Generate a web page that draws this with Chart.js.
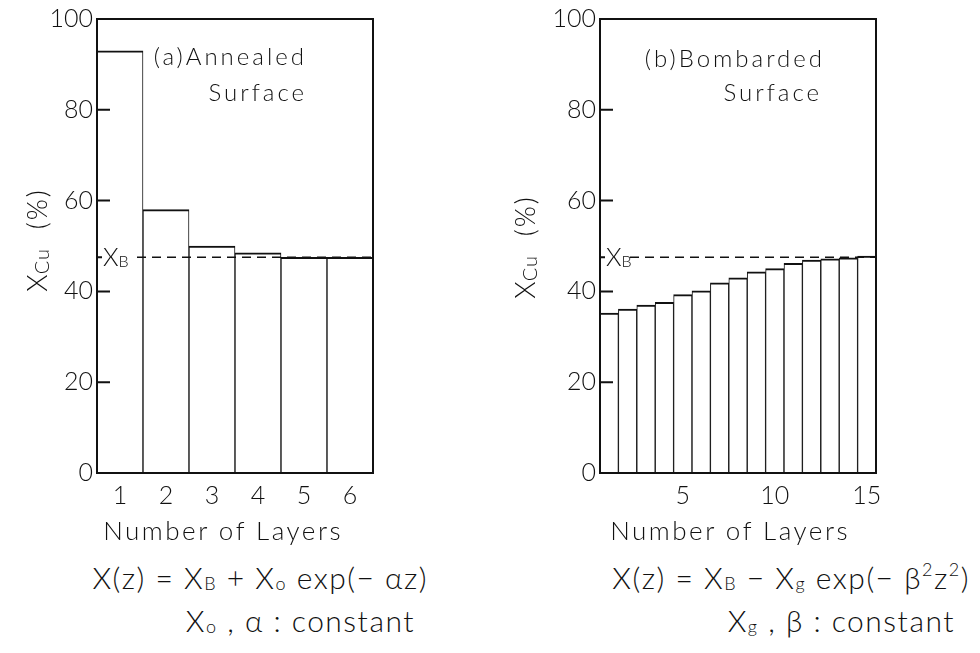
<!DOCTYPE html>
<html>
<head>
<meta charset="utf-8">
<script src="https://cdn.jsdelivr.net/npm/chart.js@4.4.0/dist/chart.umd.min.js"></script>
<style>
body{margin:0;background:#fff;width:980px;height:653px;overflow:hidden;position:relative;font-family:Lato,"Open Sans",sans-serif;font-weight:300;color:#111}
.box{position:absolute;top:0;width:420px;height:520px}
.txt{position:absolute;white-space:nowrap;font-size:30px;line-height:30px;letter-spacing:1.5px}
.lab{font-size:26px;line-height:26px;letter-spacing:2.5px}
.sb{font-size:0.6em;position:relative;top:0.08em}
.sp{font-size:0.6em;position:relative;top:-0.7em}
</style>
</head>
<body>
<div class="box" style="left:0"><canvas id="chartA" width="420" height="520"></canvas></div>
<div class="box" style="left:500px"><canvas id="chartB" width="420" height="520"></canvas></div>

<div class="txt lab" style="right:637px;top:517px">Number of Layers</div>
<div class="txt lab" style="right:130px;top:517px">Number of Layers</div>
<div class="txt" style="right:552px;top:562px">X(z) = X<span class="sb">B</span> + X<span class="sb">o</span> exp(− αz)</div>
<div class="txt" style="right:565px;top:605px">X<span class="sb">o</span> , α : constant</div>
<div class="txt" style="right:10px;top:562px">X(z) = X<span class="sb">B</span> − X<span class="sb">g</span> exp(− β<span class="sp">2</span>z<span class="sp">2</span>)</div>
<div class="txt" style="right:25px;top:605px">X<span class="sb">g</span> , β : constant</div>

<script>
const ink = '#111'
const fontFam = 'Lato, "Open Sans", sans-serif'

// (a) annealed surface
const layersA = ['1', '2', '3', '4', '5', '6']
const xcuA = [93, 58, 50, 48.5, 47.5, 47.5]
// (b) bombarded surface
const layersB = ['1','2','3','4','5','6','7','8','9','10','11','12','13','14','15']
const xcuB = [35.2, 36.1, 37.0, 37.6, 39.3, 40.1, 41.9, 43.0, 44.3, 45.0, 46.2, 46.9, 47.2, 47.4, 47.8]
const shownB = ['5', '10', '15']
const xbValue = 47.5
const yTicks = [0, 20, 40, 60, 80, 100]
const innerTicks = [20, 40, 60, 80]

function drawRich(ctx, segs, x, yc, align) {
    // segs: [text, size, dy, spacing]
    let w = 0
    for (const s of segs) {
        ctx.font = `300 ${s[1]}px ${fontFam}`
        ctx.letterSpacing = (s[3] || 0) + 'px'
        w += ctx.measureText(s[0]).width
    }
    let cx = align === 'right' ? x - w : align === 'center' ? x - w / 2 : x
    const base = yc + segs[0][1] * 0.36
    ctx.textAlign = 'left'
    ctx.textBaseline = 'alphabetic'
    for (const s of segs) {
        ctx.font = `300 ${s[1]}px ${fontFam}`
        ctx.letterSpacing = (s[3] || 0) + 'px'
        ctx.fillText(s[0], cx, base + (s[2] || 0))
        cx += ctx.measureText(s[0]).width
    }
    ctx.letterSpacing = '0px'
}

const decor = {
    id: 'decor',
    afterDatasetsDraw(chart, args, o) {
        const {ctx, chartArea: a} = chart
        const y = chart.scales.y
        ctx.save()
        ctx.strokeStyle = ink
        ctx.fillStyle = ink
        ctx.lineWidth = 2
        ctx.strokeRect(a.left, a.top, a.right - a.left, a.bottom - a.top)

        ctx.beginPath()
        for (const v of innerTicks) {
            const py = y.getPixelForValue(v)
            ctx.moveTo(a.left, py)
            ctx.lineTo(a.left + 13, py)
        }
        const yb = y.getPixelForValue(o.xb)
        ctx.moveTo(a.left, yb)
        ctx.lineTo(a.left + 5, yb)
        ctx.stroke()

        ctx.lineWidth = 1.5
        ctx.setLineDash([9, 6])
        ctx.beginPath()
        ctx.moveTo(a.left + o.dashFrom, yb)
        ctx.lineTo(a.right, yb)
        ctx.stroke()
        ctx.setLineDash([])

        drawRich(ctx, [['X', 25], ['B', 16, 1]], a.left + 6, yb, 'left')

        for (const l of o.lines) {
            drawRich(ctx, [[l.text, 24, 0, 3]], l.x, l.y, 'right')
        }

        ctx.translate(o.titleX, o.titleY)
        ctx.rotate(-Math.PI / 2)
        drawRich(ctx, [['X', 28], ['Cu', 20, 2, 1], ['  (%)', 27, 0, 2]], 0, 0, 'center')
        ctx.restore()
    }
}

function makeChart(id, labels, values, shown, yWidth, padRight, deco) {
    return new Chart(document.getElementById(id), {
        type: 'bar',
        data: {
            labels: labels,
            datasets: [{
                data: values,
                backgroundColor: '#fff',
                borderColor: ink,
                borderWidth: {top: 2, left: 1, right: 1, bottom: 0},
                borderSkipped: false,
                barPercentage: 1,
                categoryPercentage: 1
            }]
        },
        options: {
            responsive: false,
            animation: false,
            layout: {autoPadding: false, padding: {top: 17, right: padRight, left: 0, bottom: 0}},
            plugins: {legend: {display: false}, tooltip: {enabled: false}, decor: deco},
            scales: {
                x: {
                    grid: {display: false, drawTicks: false},
                    border: {display: false},
                    afterFit(s) { s.height = 47 },
                    ticks: {
                        autoSkip: false, maxRotation: 0, padding: 8, color: ink,
                        font: {family: fontFam, size: 25, weight: 300},
                        callback(v) {
                            const l = this.getLabelForValue(v)
                            return shown.includes(l) ? l : ''
                        }
                    }
                },
                y: {
                    min: 0, max: 100,
                    afterBuildTicks(s) { s.ticks = yTicks.map(v => ({value: v})) },
                    afterFit(s) { s.width = yWidth },
                    grid: {display: false, drawTicks: false},
                    border: {display: false},
                    ticks: {padding: 4, color: ink, font: {family: fontFam, size: 25, weight: 300}}
                }
            }
        },
        plugins: [decor]
    })
}

makeChart('chartA', layersA, xcuA, layersA, 97, 47, {
    xb: xbValue, dashFrom: 40, titleX: 37, titleY: 240,
    lines: [{text: '(a)Annealed', x: 307, y: 56}, {text: 'Surface', x: 307, y: 92}]
})
makeChart('chartB', layersB, xcuB, shownB, 100, 44, {
    xb: xbValue, dashFrom: 30, titleX: 25, titleY: 247,
    lines: [{text: '(b)Bombarded', x: 325, y: 58}, {text: 'Surface', x: 322, y: 92}]
})
</script>
</body>
</html>
